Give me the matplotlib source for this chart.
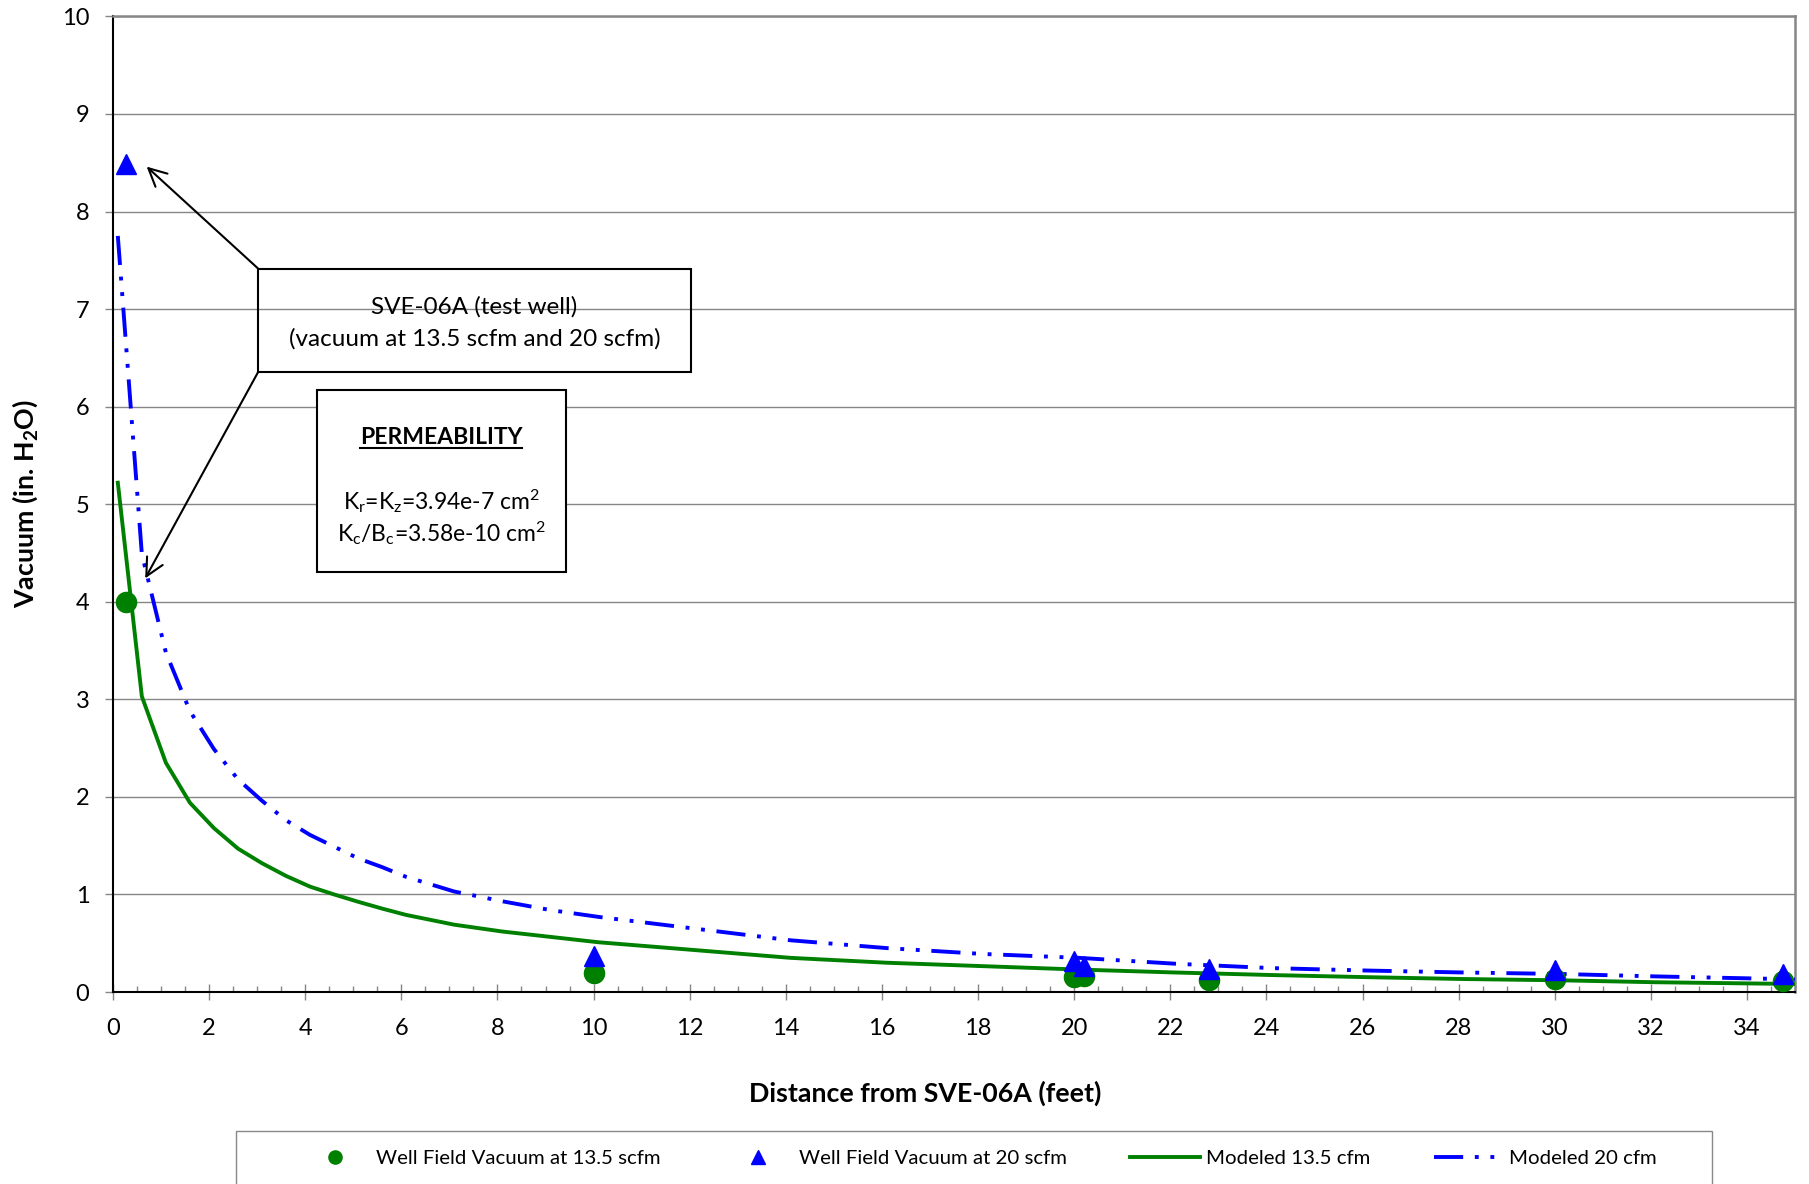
import matplotlib
matplotlib.use('Agg')
import matplotlib.pyplot as plt
from matplotlib.lines import Line2D
from matplotlib.patches import Rectangle
from matplotlib.ticker import MultipleLocator

plt.rcParams['font.family'] = ['Lato', 'DejaVu Sans']
plt.rcParams['mathtext.fontset'] = 'custom'
plt.rcParams['mathtext.rm'] = 'Lato'
plt.rcParams['mathtext.it'] = 'Lato:italic'
plt.rcParams['mathtext.bf'] = 'Lato:bold'

# measured vacuum in the well field
dist_field = [0.28, 10, 20, 20.2, 22.8, 30, 34.75]
vac_135 = [4.0, 0.19, 0.15, 0.165, 0.12, 0.13, 0.115]
vac_20 = [8.49, 0.37, 0.32, 0.27, 0.24, 0.23, 0.18]

# modeled curves
dist_model = [0.1, 0.6, 1.1, 1.6, 2.1, 2.6, 3.1, 3.6, 4.1, 4.6, 5.1, 5.6, 6.1, 7.1,
              8.1, 9.1, 10.1, 12.1, 14.1, 16.1, 18.1, 20.1, 22.1, 24.1, 26.1, 28.1,
              30.1, 32.1, 35.0]
model_135 = [5.22, 3.03, 2.35, 1.94, 1.68, 1.47, 1.32, 1.19, 1.08, 1.0, 0.925, 0.855,
             0.79, 0.69, 0.62, 0.565, 0.51, 0.43, 0.35, 0.30, 0.265, 0.23, 0.20,
             0.174, 0.152, 0.133, 0.12, 0.10, 0.082]
model_20 = [7.75, 4.49, 3.48, 2.88, 2.49, 2.18, 1.96, 1.76, 1.61, 1.49, 1.37, 1.28,
            1.18, 1.03, 0.93, 0.84, 0.77, 0.65, 0.53, 0.45, 0.39, 0.35, 0.29, 0.245,
            0.22, 0.20, 0.185, 0.16, 0.13]

green = '#008000'
blue = '#0000FF'
grey = '#868686'
dashdotdot = (0, (7.5, 3, 1, 3, 1, 3))

fig = plt.figure(figsize=(18.09, 11.84), dpi=100)
ax = fig.add_axes([0.06247, 0.16216, 0.92980, 0.82399])

ax.plot(dist_model, model_135, color=green, lw=2.8, zorder=3)
ax.plot(dist_model, model_20, color=blue, lw=2.8, linestyle=dashdotdot, zorder=3)
ax.plot(dist_field, vac_135, 'o', color=green, ms=14.5, zorder=4)
ax.plot(dist_field, vac_20, '^', color=blue, ms=15, zorder=5)

ax.set_xlim(0, 35)
ax.set_ylim(0, 10)
ax.xaxis.set_major_locator(MultipleLocator(2))
ax.xaxis.set_minor_locator(MultipleLocator(0.5))
ax.yaxis.set_major_locator(MultipleLocator(1))
ax.grid(axis='y', color=grey, lw=1.0)
ax.set_axisbelow(True)

ax.tick_params(axis='x', which='major', direction='inout', length=11, width=1,
               color=grey, labelsize=17, pad=13)
ax.tick_params(axis='x', which='minor', direction='in', length=4.5, width=1, color=grey)
ax.tick_params(axis='y', which='major', direction='out', length=6, width=1,
               color=grey, labelsize=17, pad=11)

for s in ['left', 'bottom']:
    ax.spines[s].set_color('black')
    ax.spines[s].set_linewidth(1.5)
for s in ['top', 'right']:
    ax.spines[s].set_color(grey)
    ax.spines[s].set_linewidth(1.8)

fig.text(0.5113, 0.0769, 'Distance from SVE-06A (feet)', fontsize=19.3,
         fontweight='bold', ha='center', va='center')
fig.text(0.0138, 0.5743, r'Vacuum (in. H$_\mathbf{2}$O)', fontsize=19.3,
         fontweight='bold', ha='center', va='center', rotation=90)

# annotation boxes
ax.add_patch(Rectangle((3.02, 6.355), 9.0, 1.06, fill=False, ec='black', lw=1.5, zorder=6))
ax.add_patch(Rectangle((4.24, 4.31), 5.19, 1.86, facecolor='white', ec='black', lw=1.5, zorder=6))
ax.text(7.52, 6.953, 'SVE-06A (test well)', fontsize=17.5, ha='center', va='baseline', zorder=7)
ax.text(7.52, 6.63, '(vacuum at 13.5 scfm and 20 scfm)', fontsize=17.5, ha='center',
        va='baseline', zorder=7)
perm = ax.text(6.83, 5.62, 'PERMEABILITY', fontsize=16.5, fontweight='bold',
               ha='center', va='baseline', zorder=7)
ax.text(6.83, 4.945, r'K$_\mathrm{r}$=K$_\mathrm{z}$=3.94e-7 cm$^\mathrm{2}$',
        fontsize=16.5, ha='center', va='baseline', zorder=7)
ax.text(6.83, 4.62, r'K$_\mathrm{c}$/B$_\mathrm{c}$=3.58e-10 cm$^\mathrm{2}$',
        fontsize=16.5, ha='center', va='baseline', zorder=7)

arrow = dict(arrowstyle='->', lw=1.5, color='black', mutation_scale=32, shrinkA=0, shrinkB=0)
ax.annotate('', xy=(0.70, 8.46), xytext=(3.02, 7.415), arrowprops=arrow, zorder=7)
ax.annotate('', xy=(0.67, 4.24), xytext=(3.02, 6.355), arrowprops=arrow, zorder=7)

# legend
handles = [
    Line2D([], [], ls='none', marker='o', color=green, ms=9.5),
    Line2D([], [], ls='none', marker='^', color=blue, ms=9.5),
    Line2D([], [], color=green, lw=2.8),
    Line2D([], [], color=blue, lw=2.8, linestyle=dashdotdot),
]
labels = ['Well Field Vacuum at 13.5 scfm', 'Well Field Vacuum at 20 scfm',
          'Modeled 13.5 cfm', 'Modeled 20 cfm']
fig.legend(handles, labels, loc='center', bbox_to_anchor=(0.5409, 0.0215), ncol=4,
           frameon=False, fontsize=14.7, handlelength=3.4, handletextpad=0.3,
           columnspacing=3.1)
fig.add_artist(Rectangle((0.1305, -0.02), 0.8159, 0.0648, transform=fig.transFigure,
                         fill=False, ec='#898989', lw=1.0))

# underline for the PERMEABILITY heading
fig.canvas.draw()
bb = perm.get_window_extent().transformed(ax.transData.inverted())
ax.plot([bb.x0, bb.x1], [5.577, 5.577], color='black', lw=1.5, zorder=7)

fig.savefig('out.png', dpi=100)
